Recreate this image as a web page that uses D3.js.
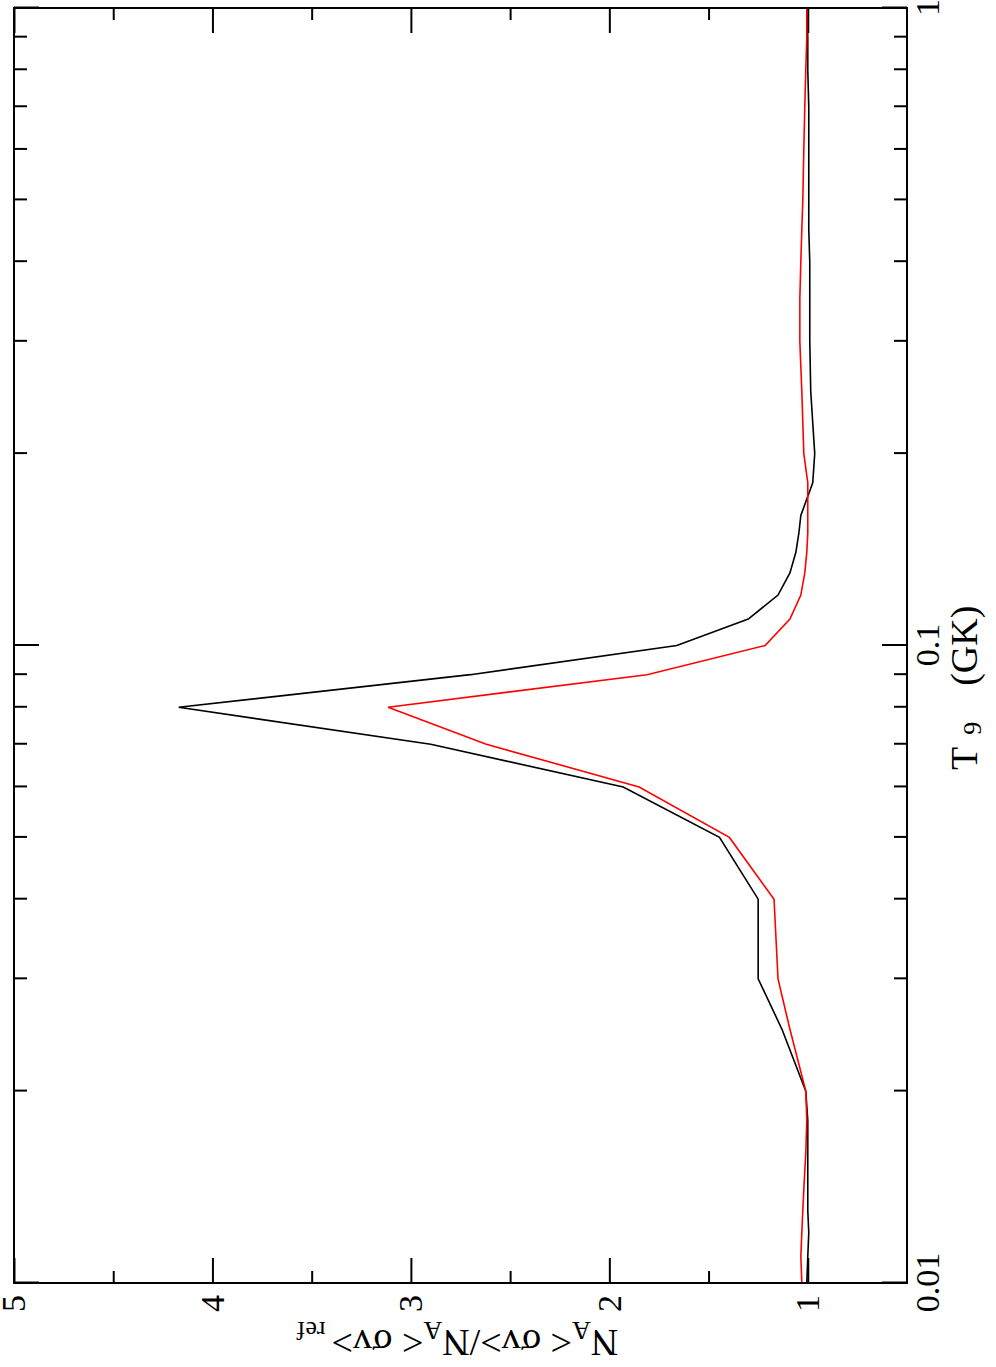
<!DOCTYPE html>
<html>
<head>
<meta charset="utf-8">
<script src="https://cdn.jsdelivr.net/npm/d3@7"></script>
<style>
  html, body { margin: 0; padding: 0; background: #fff; }
  svg { display: block; }
  text { font-family: "Liberation Serif", "Times New Roman", serif; fill: #000; }
</style>
</head>
<body>
<svg id="chart" width="996" height="1367"></svg>
<script>
// ---- data ----
const T9 = [0.01, 0.011, 0.012, 0.013, 0.014, 0.015, 0.016, 0.018, 0.02, 0.025, 0.03, 0.04, 0.05,
  0.06, 0.07, 0.08, 0.09, 0.1, 0.11, 0.12, 0.13, 0.14, 0.15, 0.16, 0.18, 0.2, 0.25, 0.3, 0.35,
  0.4, 0.45, 0.5, 0.6, 0.7, 0.8, 0.9, 1.0];
const ratioBlack = [1.005, 1.0, 0.995, 1.0, 1.0, 1.0, 1.0, 1.0, 1.01, 1.13, 1.25, 1.25, 1.445,
  1.93, 2.90, 4.17, 2.70, 1.66, 1.30, 1.15, 1.09, 1.06, 1.045, 1.035, 0.975, 0.965, 0.985, 0.99, 0.99,
  0.99, 0.995, 0.995, 0.995, 0.995, 1.0, 1.0, 1.005];
const ratioRed = [1.03, 1.035, 1.03, 1.025, 1.02, 1.015, 1.01, 1.005, 1.01, 1.09, 1.15, 1.17, 1.395,
  1.85, 2.62, 3.115, 1.81, 1.215, 1.09, 1.035, 1.015, 1.005, 1.0, 1.0, 1.0, 1.02, 1.03, 1.04, 1.04,
  1.035, 1.03, 1.025, 1.02, 1.015, 1.01, 1.005, 1.005];
const xMajorTicks = [0.01, 0.1, 1];
const xTickLabels = ["0.01", "0.1", "1"];
const xMinorTicks = [0.02, 0.03, 0.04, 0.05, 0.06, 0.07, 0.08, 0.09, 0.2, 0.3, 0.4, 0.5, 0.6, 0.7, 0.8, 0.9];
const yMajorTicks = [1, 2, 3, 4, 5];
const yTickLabels = ["1", "2", "3", "4", "5"];
const yMinorTicks = [1.5, 2.5, 3.5, 4.5];
const xDomain = [0.01, 1];
const yDomain = [0.5, 5];

// ---- layout (landscape chart rotated -90deg) ----
const W = 1275, H = 893;
const svg = d3.select("#chart");
const g = svg.append("g").attr("transform", "translate(14,1283) rotate(-90)");

const x = d3.scaleLog().domain(xDomain).range([0, W]);
const y = d3.scaleLinear().domain(yDomain).range([H, 0]);

const fs = 34;

function styleAxis(sel) {
  sel.select(".domain").remove();
  sel.selectAll(".tick line").attr("stroke", "#000").attr("stroke-width", 2);
  sel.selectAll(".tick text").attr("font-size", fs).attr("font-family", "Liberation Serif").attr("fill", "#000");
}

// bottom (T9) major + minor
g.append("g").attr("transform", `translate(0,${H})`)
  .call(d3.axisBottom(x).tickValues(xMajorTicks).tickSize(-25).tickPadding(8)
    .tickFormat((d, i) => xTickLabels[i])).call(styleAxis);
g.append("g").attr("transform", `translate(0,${H})`)
  .call(d3.axisBottom(x).tickValues(xMinorTicks).tickSize(-13).tickFormat("")).call(styleAxis);
// top
g.append("g").call(d3.axisTop(x).tickValues(xMajorTicks).tickSize(-25).tickFormat("")).call(styleAxis);
g.append("g").call(d3.axisTop(x).tickValues(xMinorTicks).tickSize(-13).tickFormat("")).call(styleAxis);
// left (ratio)
g.append("g").call(d3.axisLeft(y).tickValues(yMajorTicks).tickSize(-25).tickPadding(12)
  .tickFormat((d, i) => yTickLabels[i])).call(styleAxis);
g.append("g").call(d3.axisLeft(y).tickValues(yMinorTicks).tickSize(-12).tickFormat("")).call(styleAxis);
// right
g.append("g").attr("transform", `translate(${W},0)`)
  .call(d3.axisRight(y).tickValues(yMajorTicks).tickSize(-25).tickFormat("")).call(styleAxis);
g.append("g").attr("transform", `translate(${W},0)`)
  .call(d3.axisRight(y).tickValues(yMinorTicks).tickSize(-12).tickFormat("")).call(styleAxis);

// lines
const line = d3.line().x((d, i) => x(T9[i])).y(d => y(d));
g.append("path").datum(ratioBlack).attr("d", line)
  .attr("fill", "none").attr("stroke", "#000").attr("stroke-width", 1.6).attr("stroke-linejoin", "miter");
g.append("path").datum(ratioRed).attr("d", line)
  .attr("fill", "none").attr("stroke", "#ff0000").attr("stroke-width", 1.6).attr("stroke-linejoin", "miter");

// frame
g.append("rect").attr("x", 0).attr("y", 0).attr("width", W).attr("height", H)
  .attr("fill", "none").attr("stroke", "#000").attr("stroke-width", 2);

// x title: T9 (GK)
const xt = g.append("text").attr("x", 513).attr("y", H + 70).attr("font-size", 38);
xt.append("tspan").text("T");
xt.append("tspan").attr("dx", 12).attr("dy", 4).attr("font-size", 26).text("9");
xt.append("tspan").attr("dx", 36).attr("dy", -4).text("(GK)");

// y title
const yt = g.append("text").attr("transform", `translate(-47,${H / 2 - 3}) rotate(-90)`)
  .attr("text-anchor", "middle").attr("font-size", 38);
yt.append("tspan").text("N");
yt.append("tspan").attr("dy", 8).attr("font-size", 26).text("A");
yt.append("tspan").attr("dy", -8).text("< σv>/N");
yt.append("tspan").attr("dy", 8).attr("font-size", 26).text("A");
yt.append("tspan").attr("dy", -8).text("< σv>");
yt.append("tspan").attr("dx", 6).attr("dy", 8).attr("font-size", 26).text("ref");
</script>
</body>
</html>
